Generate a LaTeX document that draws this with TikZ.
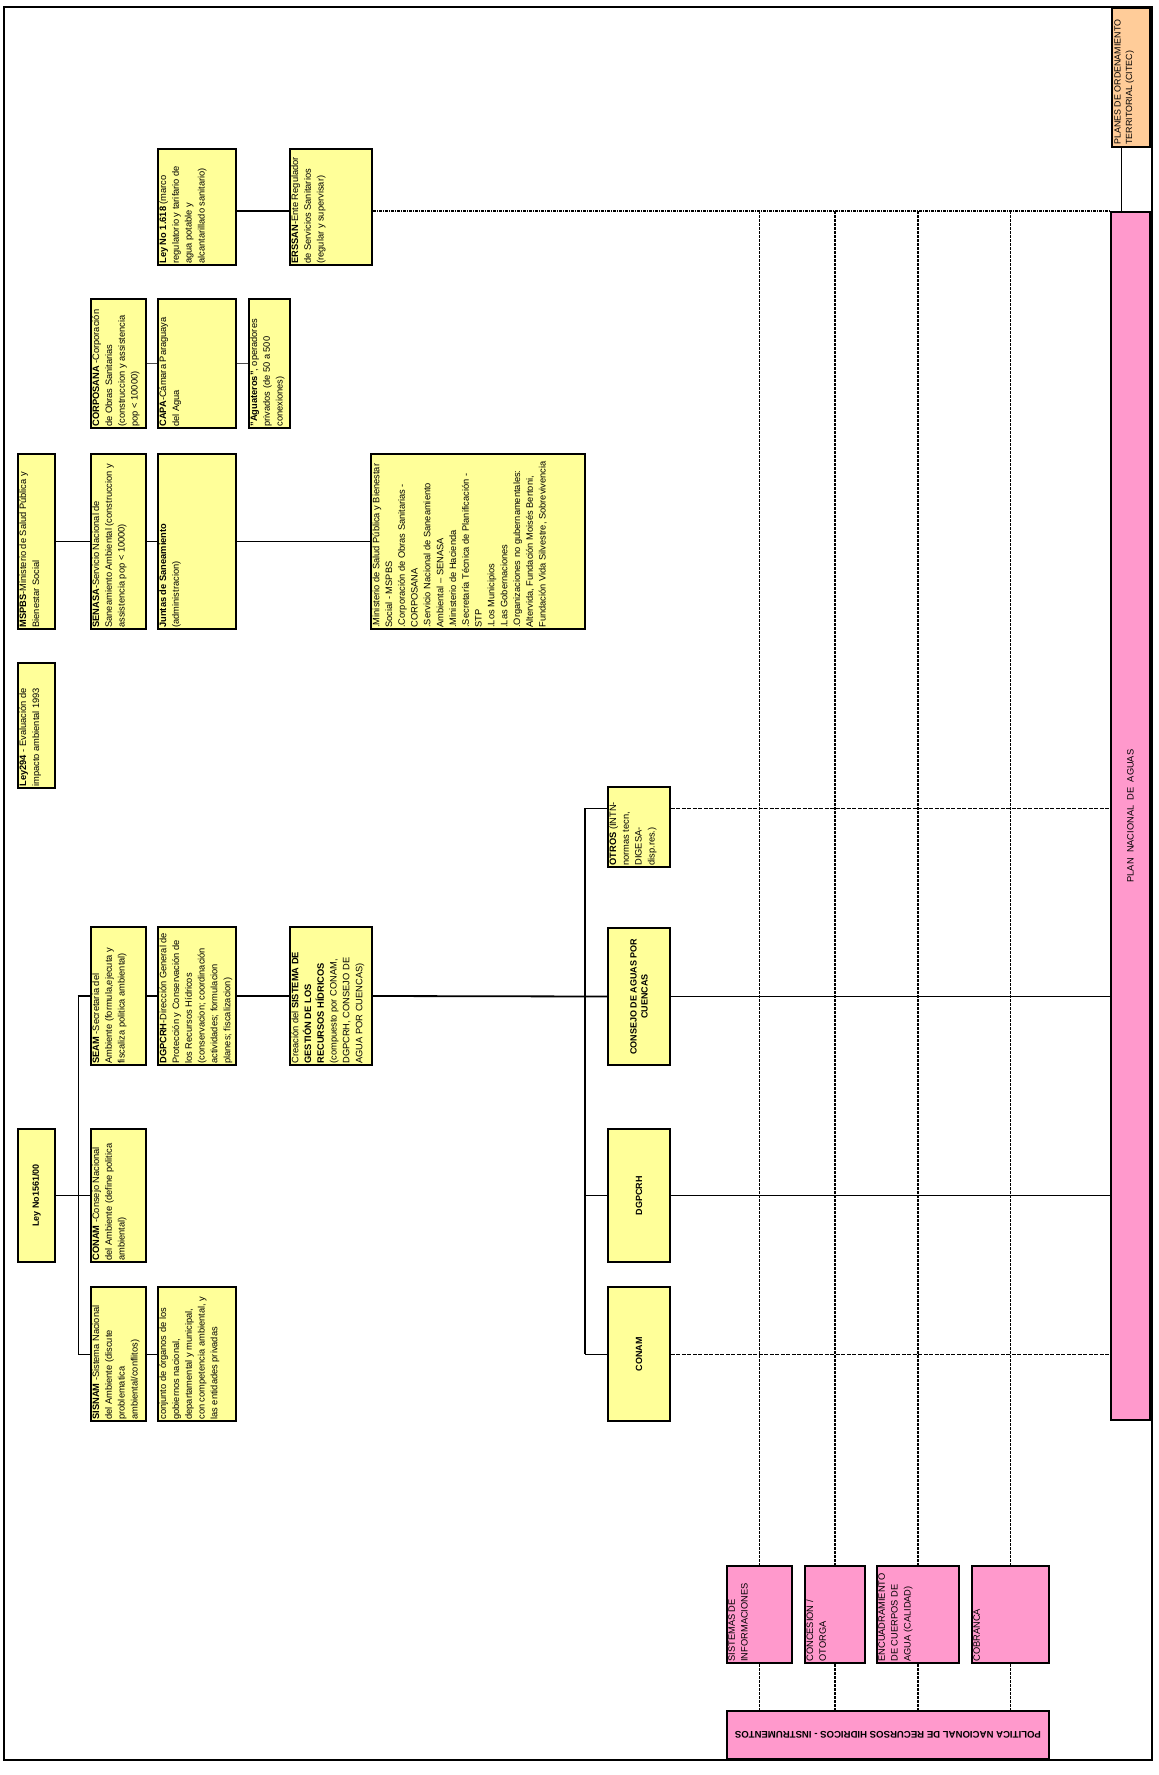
\documentclass[tikz,border=0pt]{standalone}
\usepackage{fontspec}
\setmainfont{Liberation Sans}
\definecolor{by}{HTML}{FFFF99}
\definecolor{bp}{HTML}{FF99CC}
\definecolor{bo}{HTML}{FFCC99}
\newcommand\fsz{\fontsize{9.3}{12.8}\selectfont}
\newcommand\fsb{\fontsize{9}{11}\selectfont\bfseries}
\newcommand\mkbox[6]{\node[#6, minimum width={#4-#2}, minimum height={#5-#3}] (#1) at ({(#2+#4)/2},{(#3+#5)/2}) {};}
\tikzset{
  ybox/.style={draw=black, line width=1.6pt, fill=by, inner sep=0pt},
  pbox/.style={draw=black, line width=1.6pt, fill=bp, inner sep=0pt},
  obox/.style={draw=black, line width=1.6pt, fill=bo, inner sep=0pt},
  txt/.style={rotate=90, anchor=north west, align=left, inner sep=0pt, font=\fsz},
  ctxt/.style={rotate=90, anchor=center, align=center, inner sep=0pt, font=\fsb},
  thickc/.style={draw=black, line width=1.8pt},
  thinc/.style={draw=black, line width=0.8pt},
  grayc/.style={draw=black!70, line width=0.9pt},
  dashh/.style={draw=black, line width=1pt, dash pattern=on 4pt off 1.5pt},
  dashtop/.style={draw=black, line width=1.5pt, dash pattern=on 3pt off 1pt on 1pt off 1pt},
  dashv/.style={draw=black, line width=1.2pt, dash pattern=on 3pt off 1pt},
}
\begin{document}
\begin{tikzpicture}[x=1pt, y=-1pt]
\useasboundingbox (0,0) rectangle (1159,1775);
\fill[white] (0,0) rectangle (1159,1775);
% frame
\draw[line width=1.5pt] (4,7) rectangle (1152,1760);

% boxes
\mkbox{ley1618}{158}{149}{236}{265}{ybox}
\mkbox{erssan}{290}{149}{372}{265}{ybox}
\mkbox{corposana}{91}{299}{146}{428}{ybox}
\mkbox{capa}{158}{299}{236}{428}{ybox}
\mkbox{aguateros}{249}{299}{290}{428}{ybox}
\mkbox{mspbs}{18}{454}{55}{629}{ybox}
\mkbox{senasa}{91}{454}{146}{629}{ybox}
\mkbox{juntas}{158}{454}{236}{629}{ybox}
\mkbox{lista}{371}{454}{585}{629}{ybox}
\mkbox{ley294}{18}{663}{55}{788}{ybox}
\mkbox{otros}{608}{787}{670}{867}{ybox}
\mkbox{seam}{91}{927}{146}{1065}{ybox}
\mkbox{dgpcrhA}{158}{927}{236}{1065}{ybox}
\mkbox{creacion}{290}{927}{372}{1065}{ybox}
\mkbox{consejo}{608}{928}{670}{1065}{ybox}
\mkbox{leyA}{18}{1129}{55}{1262}{ybox}
\mkbox{conamA}{91}{1129}{146}{1262}{ybox}
\mkbox{dgpcrhB}{608}{1129}{670}{1262}{ybox}
\mkbox{sisnam}{91}{1287}{146}{1421}{ybox}
\mkbox{conjunto}{158}{1287}{236}{1421}{ybox}
\mkbox{conamB}{608}{1287}{670}{1421}{ybox}

\mkbox{plan}{1111}{212}{1150}{1420}{pbox}
\mkbox{planes}{1112}{8}{1150}{147}{obox}
\mkbox{sistemas}{727}{1566}{792}{1663}{pbox}
\mkbox{concesion}{805}{1566}{865}{1663}{pbox}
\mkbox{encuadra}{877}{1566}{959}{1663}{pbox}
\mkbox{cobranca}{972}{1566}{1049}{1663}{pbox}
\mkbox{politica}{727}{1711}{1049}{1759}{pbox}
\draw[line width=3pt] ([xshift=-0.5pt]plan.north east) -- ([xshift=-0.5pt]plan.south east);

% texts
\node[txt] (t1) at ([xshift=2pt,yshift=2pt]ley1618.south west) {\textbf{Ley No 1.618} (marco\\regulatorio y tarifario de\\agua potable y\\alcantarillado sanitario)};
\node[txt] (t2) at ([xshift=2pt,yshift=2pt]erssan.south west) {\textbf{ERSSAN}-Ente Regulador\\de Servicios Sanitarios\\(regular y supervisar)};
\node[txt] (t3) at ([xshift=2pt,yshift=2pt]corposana.south west) {\textbf{CORPOSANA} -Corporación\\de Obras Sanitarias\\(construccion y assistencia\\pop < 10000)};
\node[txt] (t4) at ([xshift=2pt,yshift=2pt]capa.south west) {\textbf{CAPA}-Cámara Paraguaya\\del Agua};
\node[txt] (t5) at ([xshift=2pt,yshift=2pt]aguateros.south west) {\textbf{"Aguateros"}, operadores\\privados (de 50 a 500\\conexiones)};
\node[txt] (t6) at ([xshift=2pt,yshift=2pt]mspbs.south west) {\textbf{MSPBS}-Ministerio de Salud Pública y\\Bienestar Social};
\node[txt] (t7) at ([xshift=2pt,yshift=2pt]senasa.south west) {\textbf{SENASA}-Servicio Nacional de\\Saneamiento Ambiental (construccion y\\assistencia pop < 10000)};
\node[txt] (t8) at ([xshift=2pt,yshift=2pt]juntas.south west) {\textbf{Juntas de Saneamiento}\\(administracion)};
\node[txt] (t9) at ([xshift=2pt,yshift=2pt]lista.south west) {.Ministerio de Salud Pública y Bienestar\\Social - MSPBS\\.Corporación de Obras Sanitarias -\\CORPOSANA\\.Servicio Nacional de Saneamiento\\Ambiental – SENASA\\.Ministerio de Hacienda\\.Secretaría Técnica de Planificación -\\STP\\.Los Municipios\\.Las Gobernaciones\\.Organizaciones no gubernamentales:\\Altervida, Fundación Moisés Bertoni,\\Fundación Vida Silvestre, Sobrevivencia};
\node[txt] (t10) at ([xshift=2pt,yshift=2pt]ley294.south west) {\textbf{Ley294} - Evaluación de\\impacto ambiental 1993};
\node[txt] (t11) at ([xshift=2pt,yshift=2pt]otros.south west) {\textbf{OTROS} (INTN-\\normas tecn,\\DIGESA-\\disp.res.)};
\node[txt] (t12) at ([xshift=2pt,yshift=2pt]seam.south west) {\textbf{SEAM} -Secretaria del\\Ambiente (formula,ejecuta y\\fiscaliza politica ambiental)};
\node[txt] (t13) at ([xshift=2pt,yshift=2pt]dgpcrhA.south west) {\textbf{DGPCRH}-Dirección General de\\Protección y Conservación de\\los Recursos Hídricos\\(conservacion; coordinación\\actividades; formulacion\\planes; fiscalizacion)};
\node[txt] (t14) at ([xshift=2pt,yshift=2pt]creacion.south west) {Creación del \textbf{SISTEMA DE}\\\textbf{GESTIÓN DE LOS}\\\textbf{RECURSOS HÍDRICOS}\\(compuesto por CONAM,\\DGPCRH, CONSEJO DE\\AGUA POR CUENCAS)};
\node[txt] (t15) at ([xshift=2pt,yshift=2pt]conamA.south west) {\textbf{CONAM} -Consejo Nacional\\del Ambiente (define politica\\ambiental)};
\node[txt] (t16) at ([xshift=2pt,yshift=2pt]sisnam.south west) {\textbf{SISNAM} -Sistema Nacional\\del Ambiente (discute\\problematica\\ambiental/conflitos)};
\node[txt] (t17) at ([xshift=2pt,yshift=2pt]conjunto.south west) {conjunto de órganos de los\\gobiernos nacional,\\departamental y municipal,\\con competencia ambiental, y\\las entidades privadas};
\node[ctxt] (t18) at (leyA.center) {Ley No1561/00};
\node[ctxt] (t19) at (consejo.center) {CONSEJO DE AGUAS POR\\CUENCAS};
\node[ctxt] (t20) at (dgpcrhB.center) {DGPCRH};
\node[ctxt] (t21) at (conamB.center) {CONAM};
\node[rotate=90, inner sep=0pt, font=\fsz] (t22) at (plan.center) {PLAN\ \ NACIONAL\ \ DE\ \ AGUAS};
\node[txt, font=\fontsize{8.9}{11.5}\selectfont] (t23) at ([xshift=3pt,yshift=3pt]planes.south west) {PLANES DE ORDENAMIENTO\\TERRITORIAL (CITEC)};
\node[txt] (t24) at ([xshift=2pt,yshift=2pt]sistemas.south west) {SISTEMAS DE\\INFORMACIONES};
\node[txt] (t25) at ([xshift=2pt,yshift=2pt]concesion.south west) {CONCESION /\\OTORGA};
\node[txt] (t26) at ([xshift=2pt,yshift=2pt]encuadra.south west) {ENCUADRAMIENTO\\DE CUERPOS DE\\AGUA (CALIDAD)};
\node[txt] (t27) at ([xshift=2pt,yshift=2pt]cobranca.south west) {COBRANCA};
\node[rotate=180, inner sep=0pt, font=\fontsize{9.6}{11}\selectfont\bfseries] (t28) at (politica.center) {POLITICA NACIONAL DE RECURSOS HIDRICOS - INSTRUMENTOS};

% connectors: top rows
\draw[thickc] (ley1618.east |- plan.north) -- (erssan.west |- plan.north);
\draw[dashtop] (erssan.east |- plan.north) -- (plan.north west);
\draw[grayc] (corposana.east) -- (capa.west);
\draw[grayc] (capa.east) -- (aguateros.west);
\draw[thickc] (mspbs.east) -- (senasa.west);
\draw[thickc] (senasa.east) -- (juntas.west);
\draw[thickc] (juntas.east) -- (lista.west);
\coordinate (pl) at ([xshift=11pt]plan.north west);
\draw[line width=1.2pt] (pl |- planes.south) -- (pl);

% left branch
\coordinate (bx) at (78,0);
\draw[thinc] (bx |- seam.west) -- (bx |- sisnam.west);
\draw[thickc] ([xshift=-0.4pt]bx |- seam.west) -- (seam.west);
\draw[thinc] (bx |- sisnam.west) -- (sisnam.west);
\draw[thinc] (sisnam.east) -- (conjunto.west);
\draw[thickc] (leyA.east) -- (conamA.west);
\draw[thickc] (seam.east) -- (dgpcrhA.west);
\draw[thickc] (dgpcrhA.east) -- (creacion.west);

% bus
\coordinate (bus) at (585,0);
\coordinate (otrosL) at ([yshift=19pt]otros.west);
\coordinate (otrosR) at ([yshift=19pt]otros.east);
\draw[thickc] (creacion.east) -- (consejo.west);
\draw[line width=1.6pt] (bus |- otrosL) -- (bus |- conamB.west);
\draw[thinc] (bus |- otrosL) -- (otrosL);
\draw[thickc] (bus |- dgpcrhB.west) -- (dgpcrhB.west);
\draw[thinc] (bus |- conamB.west) -- (conamB.west);

% to plan
\draw[dashh] (otrosR) -- (otrosR -| plan.west);
\draw[thinc] (consejo.east) -- (consejo.east -| plan.west);
\draw[thinc] (dgpcrhB.east) -- (dgpcrhB.east -| plan.west);
\draw[dashh] (conamB.east) -- (conamB.east -| plan.west);

% instruments
\foreach \b in {sistemas,concesion,encuadra,cobranca}{
  \draw[dashv] (\b.north |- plan.north) -- (\b.north);
  \draw[dashv] (\b.south) -- (\b.south |- politica.north);
}
\end{tikzpicture}
\end{document}
